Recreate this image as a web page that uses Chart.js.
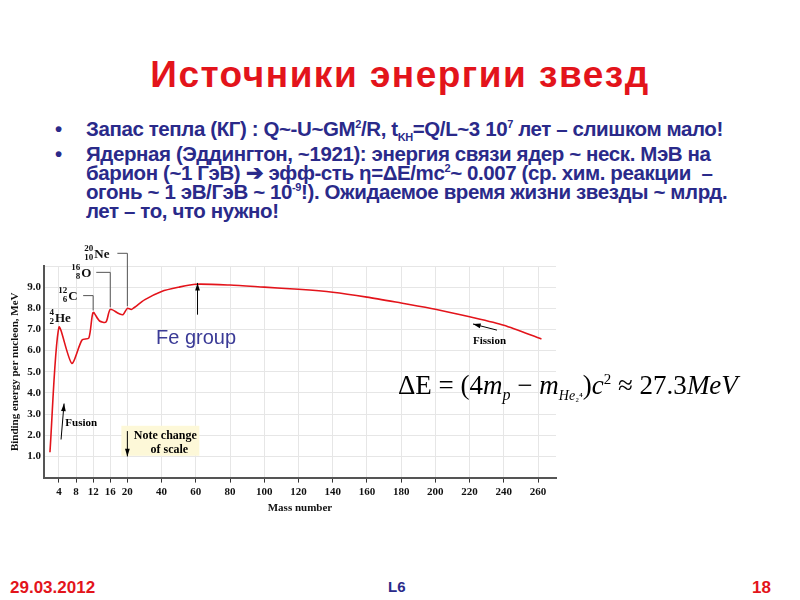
<!DOCTYPE html>
<html><head><meta charset="utf-8">
<script src="https://cdn.jsdelivr.net/npm/chart.js@4"></script>
<style>
body{margin:0;width:800px;height:600px;background:#fff;position:relative;overflow:hidden;font-family:"Liberation Sans",Arial,sans-serif}
#title{position:absolute;top:54px;left:0;width:800px;text-align:center;color:#e3141b;font-weight:bold;font-size:37px;letter-spacing:1.5px}
ul{position:absolute;top:119px;left:55px;margin:0;padding:0;list-style:none;color:#2a2a8a;font-weight:bold;font-size:20.5px;line-height:19px;letter-spacing:-0.4px;white-space:nowrap}
li{position:relative;padding-left:31px;margin-bottom:6px}
li:before{content:"•";position:absolute;left:0;color:#2a2a8a}
sup,sub{font-size:11px;line-height:0}
#chartBox{position:absolute;left:7px;top:240px;width:563px;height:275px}
#fe{position:absolute;left:156px;top:326px;color:#3a3a96;font-size:20px}
#formula{position:absolute;left:398px;top:370px;font-family:"Liberation Serif","Times New Roman",serif;font-size:27px;color:#000}
#formula i{font-style:italic}
.ft{position:absolute;top:578px;font-weight:bold;font-size:17px}
</style></head><body>
<div id="title">Источники энергии звезд</div>
<ul>
<li>Запас тепла (КГ) : Q~-U~GM<sup>2</sup>/R, t<sub>KH</sub>=Q/L~3 10<sup>7</sup> лет – слишком мало!</li>
<li>Ядерная (Эддингтон, ~1921): энергия связи ядер ~ неск. МэВ на<br>барион (~1 ГэВ) ➔ эфф-сть η=ΔE/mc<sup>2</sup>~ 0.007 (ср. хим. реакции &nbsp;–<br>огонь ~ 1 эВ/ГэВ ~ 10<sup>-9</sup>!). Ожидаемое время жизни звезды ~ млрд.<br>лет – то, что нужно!</li>
</ul>
<div id="chartBox"><canvas id="c"></canvas></div>
<div id="fe">Fe group</div>
<div id="formula">ΔE = (4<i>m</i><sub style="font-size:16px"><i>p</i></sub> − <i>m</i><sub style="font-size:14px"><i>He</i><span style="font-size:11px">₂⁴</span></sub>)<i>c</i><sup style="font-size:15px">2</sup> ≈ 27.3<i>MeV</i></div>
<div class="ft" style="left:10px;color:#e3141b">29.03.2012</div>
<div class="ft" style="left:388px;color:#2a2a8a;font-size:15px">L6</div>
<div class="ft" style="left:752px;color:#e3141b">18</div>
<script>
// mass number A and binding energy per nucleon (MeV)
var massNumbers = [1.9, 4, 7, 9.4, 11, 12, 13.5, 15, 16, 18, 19, 20, 22.5, 30, 40, 50, 60, 80, 100, 120, 140, 160, 180, 200, 220, 240, 262];
var bindingEnergy = [1.2, 7.1, 5.4, 6.5, 6.6, 7.8, 7.4, 7.35, 7.95, 7.75, 7.7, 8.0, 7.95, 8.4, 8.8, 9.0, 9.14, 9.1, 9.0, 8.9, 8.76, 8.53, 8.25, 7.96, 7.6, 7.2, 6.55];
var xTickLabels = [4, 8, 12, 16, 20, 40, 60, 80, 100, 120, 140, 160, 180, 200, 220, 240, 260];
var yTickLabels = [1, 2, 3, 4, 5, 6, 7, 8, 9];

// scale changes at A = 20
function toAxis(a) { return a <= 20 ? a : 20 + (a - 20) * 0.4; }
function fromAxis(d) { return d <= 20 ? d : 20 + (d - 20) / 0.4; }

var serif = '"Liberation Serif","Times New Roman",serif';
var points = massNumbers.map(function (a, i) { return {x: toAxis(a), y: bindingEnergy[i]}; });

var notes = {
    id: "notes",
    afterDatasetsDraw: function (chart) {
        var c = chart.ctx, xs = chart.scales.x, ys = chart.scales.y;
        function X(a) { return xs.getPixelForValue(toAxis(a)); }
        function Y(e) { return ys.getPixelForValue(e); }
        function arrow(x1, y1, x2, y2) {
            c.beginPath(); c.moveTo(x1, y1); c.lineTo(x2, y2); c.stroke();
            var ang = Math.atan2(y2 - y1, x2 - x1);
            c.beginPath(); c.moveTo(x2, y2);
            c.lineTo(x2 - 8 * Math.cos(ang - 0.3), y2 - 8 * Math.sin(ang - 0.3));
            c.lineTo(x2 - 8 * Math.cos(ang + 0.3), y2 - 8 * Math.sin(ang + 0.3));
            c.closePath(); c.fill();
        }
        function iso(x, y, mass, z, sym) {
            c.font = "bold 9px " + serif; c.textAlign = "right";
            c.fillText(mass, x, y - 5); c.fillText(z, x, y + 4);
            c.font = "bold 13px " + serif; c.textAlign = "left";
            c.fillText(sym, x + 1, y + 1);
        }
        function lead(x0, e, a, eEnd) {
            c.beginPath(); c.moveTo(x0, Y(e)); c.lineTo(X(a), Y(e)); c.lineTo(X(a), Y(eEnd)); c.stroke();
        }
        c.save();
        c.fillStyle = "#111"; c.strokeStyle = "#555"; c.lineWidth = 1;
        c.textBaseline = "middle";
        iso(X(4) - 5, Y(7.55), "4", "2", "He");
        iso(X(12) - 26, Y(8.6), "12", "6", "C");
        lead(X(12) - 10, 8.6, 12, 7.9);
        iso(X(16) - 30, Y(9.7), "16", "8", "O");
        lead(X(16) - 14, 9.7, 16, 8.05);
        iso(X(20) - 34, Y(10.6), "20", "10", "Ne");
        lead(X(20) - 10, 10.6, 20, 8.1);
        c.fillStyle = "#000"; c.strokeStyle = "#000";
        arrow(X(4.5), Y(1.8), X(5.2), Y(3.5));
        c.font = "bold 11px " + serif; c.textAlign = "left";
        c.fillText("Fusion", X(5.5), Y(2.55));
        arrow(X(236), Y(6.97), X(222), Y(7.26));
        c.fillText("Fission", X(222), Y(6.45));
        arrow(X(61), Y(7.7), X(61), Y(9.2));
        c.fillStyle = "#fdf8d8";
        c.fillRect(X(20) - 6, Y(2.45), 78, 30);
        c.fillStyle = "#000";
        arrow(X(20), Y(2.2), X(20), Y(1.0));
        c.font = "bold 12px " + serif; c.textAlign = "center";
        c.fillText("Note change", X(20) + 38, Y(1.95));
        c.fillText("of scale", X(20) + 42, Y(1.3));
        c.restore();
    }
};

new Chart(document.getElementById("c"), {
    type: "line",
    data: {datasets: [{data: points, borderColor: "#e3141b", borderWidth: 1.6, pointRadius: 0, tension: 0.25, fill: false}]},
    options: {
        responsive: true, maintainAspectRatio: false, animation: false,
        layout: {padding: {top: 26, right: 14}},
        plugins: {legend: {display: false}, tooltip: {enabled: false}},
        scales: {
            x: {
                type: "linear", min: 0.5, max: 120.2,
                afterBuildTicks: function (s) { s.ticks = xTickLabels.map(function (a) { return {value: toAxis(a)}; }); },
                ticks: {autoSkip: false, maxRotation: 0, color: "#111", font: {family: serif, size: 11, weight: "bold"},
                    callback: function (v) { return Math.round(fromAxis(v)); }},
                grid: {color: "#e6e6e6", tickLength: 5, tickColor: "#333"},
                border: {color: "#555", width: 2},
                title: {display: true, text: "Mass number", color: "#111", font: {family: serif, size: 11, weight: "bold"}, padding: 0}
            },
            y: {
                min: 0, max: 10,
                afterBuildTicks: function (s) { s.ticks = [0].concat(yTickLabels, [10]).map(function (v) { return {value: v}; }); },
                ticks: {color: "#111", font: {family: serif, size: 11, weight: "bold"},
                    callback: function (v) { return yTickLabels.indexOf(v) >= 0 ? v.toFixed(1) : ""; }},
                grid: {color: "#e6e6e6", drawTicks: false},
                border: {color: "#555", width: 2},
                title: {display: true, text: "Binding energy per nucleon, MeV", color: "#111", font: {family: serif, size: 11, weight: "bold"}, padding: 2}
            }
        }
    },
    plugins: [notes]
});
</script>
</body></html>
